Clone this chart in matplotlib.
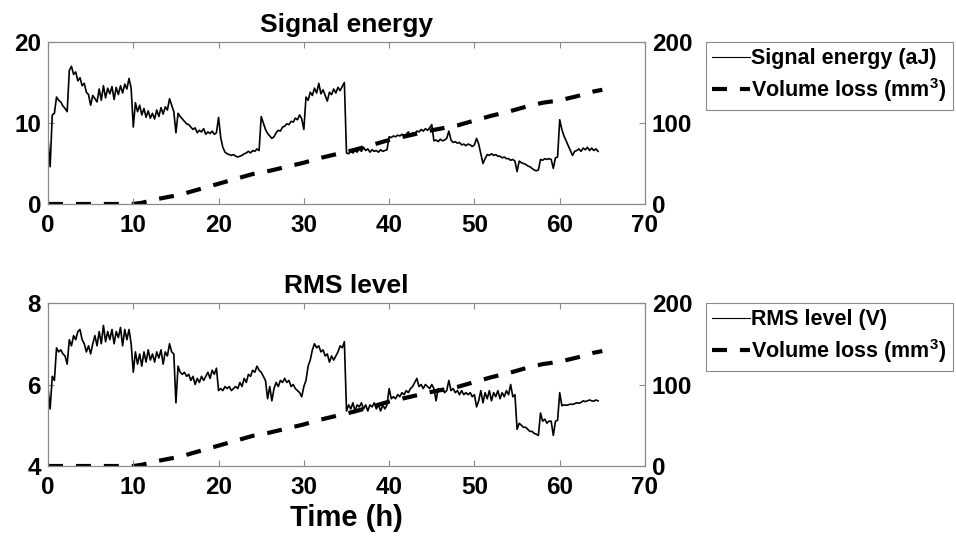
"""
Signal energy and RMS level of the acoustic signal against test time,
each plotted together with the measured volume loss on a second y axis.

Run
---
python plot.py      # writes out.png
"""

import matplotlib.pyplot as plt
import numpy as np

# --------------------------  Data  -------------------------------------------

# signals are sampled every SAMPLE_STEP hours, starting at t = 0 h
SAMPLE_STEP = 0.25

# Signal energy (aJ), one row per 5 h
energy_aj = [
    8.0, 4.6, 11.0, 11.2, 13.2, 12.8, 12.6, 12.1, 11.8, 11.4,
    16.5, 17.0, 16.0, 16.3, 15.2, 15.6, 14.6, 14.9, 13.8, 13.5,
    12.2, 13.4, 13.0, 12.6, 14.2, 12.8, 14.6, 13.1, 14.3, 13.6,
    14.5, 12.9, 14.4, 13.5, 14.6, 13.7, 14.8, 14.2, 15.5, 14.3,
    9.5, 12.5, 11.4, 12.2, 11.0, 11.8, 10.7, 11.5, 10.6, 11.2,
    10.5, 11.6, 10.8, 11.9, 11.1, 12.0, 11.6, 13.0, 12.2, 11.4,
    8.8, 11.2, 10.8, 10.5, 10.2, 9.9, 9.8, 9.5, 9.2, 9.4,
    8.8, 9.1, 8.9, 9.3, 8.6, 8.9, 8.7, 9.0, 8.6, 8.8,
    10.7, 8.2, 7.0, 6.4, 6.2, 6.1, 6.0, 6.1, 5.9, 5.8,
    5.9, 6.0, 6.2, 6.3, 6.5, 6.3, 6.6, 6.5, 6.8, 6.6,
    10.8, 10.0, 9.2, 8.7, 8.4, 8.1, 8.3, 8.8, 9.1, 9.0,
    9.5, 9.6, 9.9, 9.8, 10.2, 10.1, 10.6, 10.4, 11.0, 10.5,
    9.2, 13.2, 12.8, 13.8, 13.4, 14.3, 13.7, 14.9, 13.6, 14.1,
    13.4, 12.7, 13.8, 13.5, 14.2, 13.7, 14.4, 14.0, 14.5, 15.0,
    6.3, 6.2, 6.5, 6.3, 6.6, 6.4, 6.8, 6.5, 7.0, 6.6,
    6.8, 6.4, 6.7, 6.5, 6.6, 6.4, 6.7, 6.5, 6.6, 6.7,
    8.3, 8.2, 8.4, 8.3, 8.5, 8.4, 8.6, 8.5, 8.6, 8.9,
    8.5, 8.8, 8.7, 9.0, 8.9, 9.2, 9.0, 9.3, 9.1, 9.4,
    9.8, 7.8, 7.9, 7.7, 8.0, 7.8, 7.9, 8.1, 9.0, 7.9,
    7.6, 7.7, 7.5, 7.6, 7.3, 7.4, 7.2, 7.4, 7.3, 7.1,
    7.3, 8.1, 7.4, 6.2, 5.0, 5.6, 6.1, 6.0, 6.2, 6.0,
    6.1, 5.9, 5.9, 5.7, 5.8, 5.6, 5.6, 5.4, 5.5, 5.3,
    4.0, 5.3, 5.1, 5.0, 4.9, 4.7, 4.6, 4.4, 4.2, 4.1,
    4.2, 5.5, 5.4, 5.6, 5.5, 5.6, 5.5, 4.4, 5.7, 5.8,
    10.4, 9.2, 8.4, 7.8, 7.2, 6.6, 6.0, 6.5, 6.6, 6.8,
    6.5, 6.9, 6.7, 7.0, 6.6, 6.9, 6.6, 6.8, 6.5,
]

# RMS level (V), one row per 5 h
rms_v = [
    5.9, 5.4, 6.2, 6.1, 6.9, 6.8, 6.85, 6.75, 6.7, 6.5,
    7.1, 6.95, 7.2, 7.1, 7.3, 7.35, 7.1, 7.0, 6.8, 6.95,
    6.75, 7.0, 7.2, 6.95, 7.3, 7.0, 7.45, 7.05, 7.3, 7.1,
    7.35, 7.0, 7.3, 7.15, 7.4, 6.95, 7.35, 7.1, 7.35, 7.0,
    6.3, 6.8, 6.5, 6.75, 6.45, 6.8, 6.55, 6.85, 6.6, 6.75,
    6.55, 6.8, 6.65, 6.85, 6.5, 6.8, 6.7, 7.0, 6.8, 6.75,
    5.55, 6.45, 6.3, 6.25, 6.3, 6.2, 6.25, 6.1, 6.2, 6.0,
    6.15, 6.05, 6.2, 6.1, 6.2, 6.3, 6.15, 6.35, 6.25, 6.4,
    5.85, 5.9, 5.85, 5.95, 5.9, 5.95, 5.85, 5.9, 5.95, 5.9,
    6.05, 5.95, 6.15, 6.05, 6.25, 6.2, 6.35, 6.3, 6.45, 6.35,
    6.3, 6.2, 6.1, 5.65, 5.95, 5.6, 5.9, 6.05, 5.95, 6.1,
    6.05, 6.15, 6.05, 6.1, 5.95, 6.0, 5.9, 5.85, 5.8, 5.7,
    5.95, 6.1, 6.45, 6.6, 6.85, 7.0, 6.9, 6.95, 6.8, 6.85,
    6.7, 6.75, 6.55, 6.7, 6.6, 6.7, 6.8, 6.95, 6.9, 7.05,
    5.35, 5.5, 5.4, 5.55, 5.35, 5.5, 5.45, 5.55, 5.4, 5.5,
    5.35, 5.5, 5.45, 5.55, 5.4, 5.5, 5.35, 5.5, 5.4, 5.5,
    5.9, 5.65, 5.7, 5.65, 5.75, 5.7, 5.8, 5.75, 5.85, 5.8,
    5.9, 5.95, 6.05, 6.15, 5.95, 6.0, 5.9, 6.0, 5.95, 5.9,
    6.0, 5.9, 5.6, 5.9, 5.85, 5.9, 5.8, 5.85, 6.1, 5.85,
    5.9, 5.8, 5.85, 5.75, 5.85, 5.75, 5.8, 5.75, 5.8, 5.7,
    5.75, 5.45, 5.6, 5.85, 5.55, 5.8, 5.65, 5.85, 5.6, 5.8,
    5.7, 5.85, 5.65, 5.8, 5.7, 5.85, 5.75, 6.0, 5.7, 5.75,
    4.9, 5.05, 5.0, 4.95, 4.95, 4.9, 4.85, 4.85, 4.8, 4.78,
    4.75, 5.3, 5.1, 5.15, 5.05, 5.1, 5.1, 4.75, 5.1, 5.12,
    5.8, 5.48, 5.5, 5.49, 5.5, 5.52, 5.51, 5.53, 5.55, 5.54,
    5.56, 5.6, 5.58, 5.6, 5.62, 5.6, 5.59, 5.62, 5.6,
]

# Volume loss (mm^3) measured at these times (h)
volume_time_h = [0, 10, 11, 12, 13, 14, 15, 16, 17, 18, 19, 20, 22, 24, 26, 28,
                 30, 32, 34, 36, 38, 40, 45, 48, 50, 52, 54, 56, 58, 60, 62, 64, 65]
volume_mm3 = [0, 0, 1.5, 4, 6.5, 8.5, 10.5, 13, 16, 19, 22, 25, 31, 37, 41, 46,
              51, 57, 62, 67, 73, 79, 91, 97, 103, 109, 114, 120, 125, 128, 133, 139, 141]

# --------------------------  Style  ------------------------------------------

plt.rcParams["font.family"] = ["Liberation Sans", "DejaVu Sans"]
plt.rcParams["font.weight"] = "bold"
plt.rcParams["mathtext.fontset"] = "custom"
plt.rcParams["mathtext.rm"] = "Liberation Sans:bold"
plt.rcParams["mathtext.default"] = "rm"

FIG_W, FIG_H = 956, 543
AXIS_GREY = "#8a8a8a"
TICK_SIZE = 17.5
TITLE_SIZE = 19
XLABEL_SIZE = 21
LEGEND_SIZE = 15.5
DASH = (0, (3.6, 3.1))


def draw_panel(fig, rect, t, values, ylim, yticks, title, label):
    ax = fig.add_axes(rect)
    ax2 = ax.twinx()
    # signal on top of the volume-loss curve
    ax.set_zorder(ax2.get_zorder() + 1)
    ax.patch.set_visible(False)

    vol_line, = ax2.plot(volume_time_h, volume_mm3, color="black", lw=3,
                         linestyle=DASH)
    sig_line, = ax.plot(t, values, color="black", lw=1.2)

    ax.set_xlim(0, 70)
    ax.set_xticks(range(0, 71, 10))
    ax.set_ylim(*ylim)
    ax.set_yticks(yticks)
    ax2.set_ylim(0, 200)
    ax2.set_yticks([0, 100, 200])
    ax.set_title(title, fontsize=TITLE_SIZE, fontweight="bold", pad=7)

    for a in (ax, ax2):
        for sp in a.spines.values():
            sp.set_color(AXIS_GREY)
            sp.set_linewidth(0.8)
        a.tick_params(direction="in", length=4, width=0.8, color=AXIS_GREY,
                      labelsize=TICK_SIZE, labelcolor="black", pad=5)
    ax.tick_params(axis="x", top=True, bottom=True, pad=7)
    ax.tick_params(axis="y", left=True, right=False)

    top_px = FIG_H * (1 - rect[1] - rect[3])
    leg = fig.legend([sig_line, vol_line], [label, "Volume loss (mm$^3$)"],
                     loc="upper left",
                     bbox_to_anchor=(706 / FIG_W, 1 - top_px / FIG_H),
                     bbox_transform=fig.transFigure, borderaxespad=0,
                     fontsize=LEGEND_SIZE, handlelength=1.75,
                     handletextpad=0.05, borderpad=0.3, labelspacing=0.3,
                     fancybox=False, framealpha=1, edgecolor=AXIS_GREY)
    leg.get_frame().set_linewidth(0.8)
    leg.get_lines()[0].set_linewidth(0.8)
    return ax


# --------------------------  Main routine  -----------------------------------

if __name__ == "__main__":
    fig = plt.figure(figsize=(FIG_W / 100, FIG_H / 100), dpi=100)

    t_energy = np.arange(len(energy_aj)) * SAMPLE_STEP
    t_rms = np.arange(len(rms_v)) * SAMPLE_STEP

    draw_panel(fig, [48 / FIG_W, 1 - 204 / FIG_H, 597 / FIG_W, 162 / FIG_H],
               t_energy, energy_aj, (0, 20), [0, 10, 20],
               "Signal energy", "Signal energy (aJ)")
    ax_rms = draw_panel(fig, [48 / FIG_W, 1 - 466 / FIG_H, 597 / FIG_W, 163 / FIG_H],
                        t_rms, rms_v, (4, 8), [4, 6, 8],
                        "RMS level", "RMS level (V)")
    ax_rms.set_xlabel("Time (h)", fontsize=XLABEL_SIZE, fontweight="bold", labelpad=4)

    fig.savefig("out.png", dpi=100)
